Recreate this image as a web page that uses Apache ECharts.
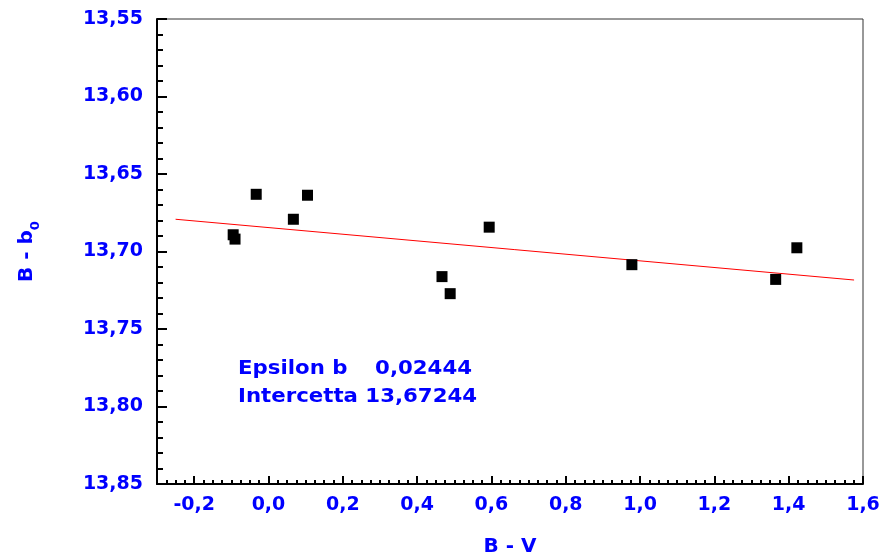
<!DOCTYPE html>
<html>
<head>
<meta charset="utf-8">
<script src="https://cdn.jsdelivr.net/npm/echarts@6/dist/echarts.min.js"></script>
<style>
  html, body { margin: 0; padding: 0; background: #ffffff; }
  #chart { width: 880px; height: 554px; }
</style>
</head>
<body>
<div id="chart"></div>
<script>
// Colour index B - V against the zero-point B - b0 for the comparison stars
const bv  = [-0.095, -0.090, -0.033, 0.067, 0.105, 0.467, 0.489, 0.594, 0.978, 1.365, 1.422];
const bb0 = [13.6892, 13.6920, 13.6631, 13.6792, 13.6637, 13.7162, 13.7272, 13.6843, 13.7085, 13.7180, 13.6976];

// End points of the fitted straight line
const fitX = [-0.25, 1.576];
const fitY = [13.6792, 13.7184];

// Fit coefficients printed in the plot
const epsilonText = '0,02444';
const interceptText = '13,67244';

// Labelled ticks of the B - V axis
const xMajorTicks = [-0.2, 0.0, 0.2, 0.4, 0.6, 0.8, 1.0, 1.2, 1.4, 1.6];

const BLUE = '#0000ff';
const FONT = 'DejaVu Sans';

// Small ticks every 0.025 between the labelled ones
const xMinorTicks = [];
for (let k = -12; k <= 64; k++) {
  if (k % 8 !== 0) xMinorTicks.push(Math.round(k * 25) / 1000);
}

const comma = (v, d) => v.toFixed(d).replace('.', ',');

const chart = echarts.init(document.getElementById('chart'), null, { renderer: 'canvas' });

chart.setOption({
  animation: false,
  backgroundColor: '#ffffff',
  grid: {
    left: 157, right: 17, top: 19, bottom: 70,
    outerBoundsMode: 'none', containLabel: false,
    show: true, borderColor: '#333333', borderWidth: 1, backgroundColor: 'transparent'
  },
  xAxis: [
    {
      type: 'value', min: -0.3, max: 1.6, position: 'bottom',
      name: 'B - V', nameLocation: 'middle', nameGap: 53,
      nameTextStyle: { color: BLUE, fontFamily: FONT, fontWeight: 'bold', fontSize: 20 },
      axisLine: { show: true, onZero: false, lineStyle: { color: '#000000', width: 2 } },
      axisTick: { show: true, inside: true, length: 8, customValues: xMajorTicks,
                  lineStyle: { color: '#000000', width: 2 } },
      axisLabel: { show: true, margin: 12, customValues: xMajorTicks,
                   color: BLUE, fontFamily: FONT, fontWeight: 'bold', fontSize: 19,
                   formatter: v => comma(v, 1) },
      splitLine: { show: false }
    },
    {
      type: 'value', min: -0.3, max: 1.6, position: 'bottom',
      axisLine: { show: false, onZero: false },
      axisTick: { show: true, inside: true, length: 4, customValues: xMinorTicks,
                  lineStyle: { color: '#000000', width: 2 } },
      axisLabel: { show: false },
      splitLine: { show: false }
    }
  ],
  yAxis: {
    type: 'value', inverse: true, min: 13.55, max: 13.85, interval: 0.05,
    name: 'B - b{s|0}', nameLocation: 'middle', nameGap: 115,
    nameTextStyle: {
      color: BLUE, fontFamily: FONT, fontWeight: 'bold', fontSize: 20,
      rich: { s: { color: BLUE, fontFamily: FONT, fontWeight: 'bold', fontSize: 13, padding: [18, 0, 0, 0] } }
    },
    axisLine: { show: true, onZero: false, lineStyle: { color: '#000000', width: 2 } },
    axisTick: { show: true, inside: true, length: 10, lineStyle: { color: '#000000', width: 2 } },
    minorTick: { show: true, splitNumber: 5, length: 6, lineStyle: { color: '#000000', width: 2 } },
    axisLabel: { margin: 14, color: BLUE, fontFamily: FONT, fontWeight: 'bold', fontSize: 19,
                 formatter: v => comma(v, 2) },
    splitLine: { show: false }
  },
  series: [
    {
      type: 'line',
      data: fitX.map((x, i) => [x, fitY[i]]),
      symbol: 'none',
      lineStyle: { color: '#ff0000', width: 1 },
      z: 2
    },
    {
      type: 'scatter',
      data: bv.map((x, i) => [x, bb0[i]]),
      symbol: 'rect', symbolSize: 11,
      itemStyle: { color: '#000000', opacity: 1 },
      z: 3
    }
  ],
  graphic: [
    { type: 'text', x: 238, y: 369, scaleX: 1.12,
      style: { text: 'Epsilon b', fill: BLUE, font: 'bold 19px "DejaVu Sans"',
               textAlign: 'left', textVerticalAlign: 'middle', align: 'left', verticalAlign: 'middle' } },
    { type: 'text', x: 472, y: 369, scaleX: 1.12,
      style: { text: epsilonText, fill: BLUE, font: 'bold 19px "DejaVu Sans"',
               textAlign: 'right', textVerticalAlign: 'middle', align: 'right', verticalAlign: 'middle' } },
    { type: 'text', x: 238, y: 397, scaleX: 1.12,
      style: { text: 'Intercetta ' + interceptText, fill: BLUE, font: 'bold 19px "DejaVu Sans"',
               textAlign: 'left', textVerticalAlign: 'middle', align: 'left', verticalAlign: 'middle' } }
  ]
});
</script>
</body>
</html>
